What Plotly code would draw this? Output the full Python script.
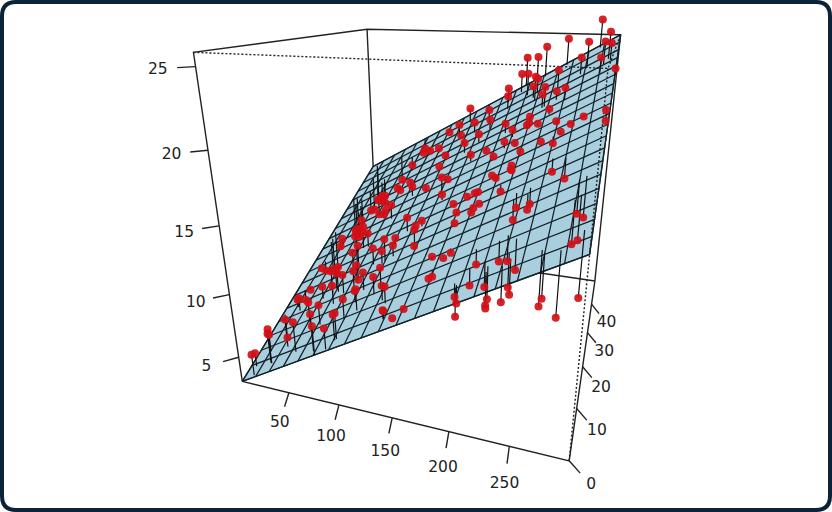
import numpy as np
import plotly.graph_objects as go

# Advertising budgets and sales read for each red point
tv = [230.1,44.5,17.2,151.5,180.8,8.7,57.5,120.2,8.6,199.8,66.1,214.7,23.8,97.5,204.1,195.4,67.8,281.4,69.2,147.3,
218.4,237.4,13.2,228.3,62.3,262.9,142.9,240.1,248.8,70.6,292.9,112.9,97.2,265.6,95.7,290.7,266.9,74.7,43.1,228,
202.5,177,293.6,206.9,25.1,175.1,89.7,239.9,227.2,66.9,199.8,100.4,216.4,182.6,262.7,198.9,7.3,136.2,210.8,210.7,
53.5,261.3,239.3,102.7,131.1,69,31.5,139.3,237.4,216.8,199.1,109.8,26.8,129.4,213.4,16.9,27.5,120.5,5.4,116,
76.4,239.8,75.3,68.4,213.5,193.2,76.3,110.7,88.3,109.8,134.3,28.6,217.7,250.9,107.4,163.3,197.6,184.9,289.7,135.2,
222.4,296.4,280.2,187.9,238.2,137.9,25,90.4,13.1,255.4,225.8,241.7,175.7,209.6,78.2,75.1,139.2,76.4,125.7,19.4,
141.3,18.8,224,123.1,229.5,87.2,7.8,80.2,220.3,59.6,0.7,265.2,8.4,219.8,36.9,48.3,25.6,273.7,43,184.9,
73.4,193.7,220.5,104.6,96.2,140.3,240.1,243.2,38,44.7,280.7,121,197.6,171.3,187.8,4.1,93.9,149.8,11.7,131.7,
172.5,85.7,188.4,163.5,117.2,234.5,17.9,206.8,215.4,284.3,50,164.5,19.6,168.4,222.4,276.9,248.4,170.2,276.7,165.6,
156.6,218.5,56.2,287.6,253.8,205,139.5,191.1,286,18.7,39.5,75.5,17.2,166.8,149.7,38.2,94.2,177,283.6,232.1]
radio = [37.8,39.3,45.9,41.3,10.8,48.9,32.8,19.6,2.1,2.6,5.8,24,35.1,7.6,32.9,47.7,36.6,39.6,20.5,23.9,
27.7,5.1,15.9,16.9,12.6,3.5,29.3,16.7,27.1,16,28.3,17.4,1.5,20,1.4,4.1,43.8,49.4,26.7,37.7,
22.3,33.4,27.7,8.4,25.7,22.5,9.9,41.5,15.8,11.7,3.1,9.6,41.7,46.2,28.8,49.4,28.1,19.2,49.6,29.5,
2,42.7,15.5,29.6,42.8,9.3,24.6,14.5,27.5,43.9,30.6,14.3,33,5.7,24.6,43.7,1.6,28.5,29.9,7.7,
26.7,4.1,20.3,44.5,43,18.4,27.5,40.6,25.5,47.8,4.9,1.5,33.5,36.5,14,31.6,3.5,21,42.3,41.7,
4.3,36.3,10.1,17.2,34.3,46.4,11,0.3,0.4,26.9,8.2,38,15.4,20.6,46.8,35,14.3,0.8,36.9,16,
26.8,21.7,2.4,34.6,32.3,11.8,38.9,0,49,12,39.6,2.9,27.2,33.5,38.6,47,39,28.9,25.9,43.9,
17,35.4,33.2,5.7,14.8,1.9,7.3,49,40.3,25.8,13.9,8.4,23.3,39.7,21.1,11.6,43.5,1.3,36.9,18.4,
18.1,35.8,18.1,36.8,14.7,3.4,37.6,5.2,23.6,10.6,11.6,20.9,20.1,7.1,3.4,48.9,30.2,7.8,2.3,10,
2.6,5.4,5.7,43,21.3,45.1,2.1,28.7,13.9,12.1,41.1,10.8,4.1,42,35.6,3.7,4.9,9.3,42,8.6]
sales = [22.1,10.4,9.3,18.5,12.9,7.2,11.8,13.2,4.8,10.6,8.6,17.4,9.2,9.7,19,22.4,12.5,24.4,11.3,14.6,
18,12.5,5.6,15.5,9.7,12,15,15.9,18.9,10.5,21.4,11.9,9.6,17.4,9.5,12.8,25.4,14.7,10.1,21.5,
16.6,17.1,20.7,12.9,8.5,14.9,10.6,23.2,14.8,9.7,11.4,10.7,22.6,21.2,20.2,23.7,5.5,13.2,23.8,18.4,
8.1,24.2,15.7,14,18,9.3,9.5,13.4,18.9,22.3,18.3,12.4,8.8,11,17,8.7,6.9,14.2,5.3,11,
11.8,12.3,11.3,13.6,21.7,15.2,12,16,12.9,16.7,11.2,7.3,19.4,22.2,11.5,16.9,11.7,15.5,25.4,17.2,
11.7,23.8,14.8,14.7,20.7,19.2,7.2,8.7,5.3,19.8,13.4,21.8,14.1,15.9,14.6,12.6,12.2,9.4,15.9,6.6,
15.5,7,11.6,15.2,19.7,10.6,6.6,8.8,24.7,9.7,1.6,12.7,5.7,19.6,10.8,11.6,9.5,20.8,9.6,20.7,
10.9,19.2,20.1,10.4,11.4,10.3,13.2,25.4,10.9,10.1,16.1,11.6,16.6,19,15.6,3.2,15.3,10.1,7.3,12.9,
14.4,13.3,14.9,18,11.9,11.9,8,12.2,17.1,15,8.4,14.5,7.6,11.7,11.5,27,20.2,11.7,11.8,12.6,
10.5,12.2,8.7,26.2,17.6,22.6,10.3,17.3,15.9,6.7,10.8,9.9,5.9,19.6,17.3,7.6,9.7,12.8,25.5,13.4]

x_ticks = [50, 100, 150, 200, 250]
y_ticks = [0, 10, 20, 30, 40]
z_ticks = [5, 10, 15, 20, 25]

# fitted regression plane (intercept, TV slope, radio slope)
b0, b1, b2 = 2.9211, 0.04575, 0.18799
n_grid = 20

xmin, xmax = min(tv), max(tv)
ymin, ymax = 0.0, max(radio)
plane = lambda a, b: b0 + b1 * np.asarray(a) + b2 * np.asarray(b)
zmin, zmax = float(plane(xmin, ymin)), float(plane(xmax, ymax))

# camera calibration: view of known box corners
calib = [
    ((xmin, ymin, zmin), (242.7, 382.3)),
    ((xmax, ymin, zmin), (568.7, 460.0)),
    ((xmin, ymin, zmax), (193.3, 52.7)),
    ((xmin, ymax, zmax), (367.0, 30.0)),
    ((xmax, ymax, zmax), (620.7, 35.0)),
    ((xmax, ymin, zmax), (608.5, 67.0)),
    ((xmax, ymax, zmin), (595.0, 281.7)),
    ((xmin, ymax, float(plane(xmin, ymax))), (373.0, 165.0)),
    ((xmax, ymin, float(plane(xmax, ymin))), (589.3, 255.0)),
]
def norm(p):
    return np.array([(p[0]-xmin)/(xmax-xmin), (p[1]-ymin)/(ymax-ymin), (p[2]-zmin)/(zmax-zmin), 1.0])
rows = []
for p, (u, v) in calib:
    P = norm(p)
    rows.append(np.r_[P, np.zeros(4), -u*P])
    rows.append(np.r_[np.zeros(4), P, -v*P])
M = np.linalg.svd(np.array(rows))[2][-1].reshape(3, 4)

def proj(x, y, z):
    h = M @ norm((x, y, z))
    return h[0]/h[2], h[1]/h[2]

def path(pts):
    xs, ys = [], []
    for p in pts:
        if p is None:
            xs.append(None); ys.append(None)
        else:
            a, b = proj(*p)
            xs.append(a); ys.append(b)
    return xs, ys

INK = "#222222"
fig = go.Figure()
def line(xs, ys, width=1.4, dash="solid", color=INK):
    fig.add_trace(go.Scatter(x=xs, y=ys, mode="lines", hoverinfo="skip",
                             line=dict(color=color, width=width, dash=dash)))

# box edges behind the plane
back = [(xmin,ymin,zmin),(xmin,ymin,zmax),(xmin,ymax,zmax),(xmax,ymax,zmax),(xmax,ymax,zmin),(xmax,ymin,zmin),(xmin,ymin,zmin),None,
        (xmin,ymax,zmax),(xmin,ymax,zmin),(xmax,ymax,zmin),None,(xmin,ymax,zmin),(xmin,ymin,zmin)]
line(*path(back))

# plane
edge = [(xmin,ymin),(xmax,ymin),(xmax,ymax),(xmin,ymax),(xmin,ymin)]
xs, ys = path([(a, b, float(plane(a, b))) for a, b in edge])
fig.add_trace(go.Scatter(x=xs, y=ys, mode="lines", fill="toself", fillcolor="#A9CFDE", hoverinfo="skip",
                         line=dict(color="#14222a", width=1.3)))
grid = []
for a in np.linspace(xmin, xmax, n_grid):
    grid += [(a, ymin, float(plane(a, ymin))), (a, ymax, float(plane(a, ymax))), None]
for b in np.linspace(ymin, ymax, n_grid):
    grid += [(xmin, b, float(plane(xmin, b))), (xmax, b, float(plane(xmax, b))), None]
line(*path(grid), width=1.25, color="#14222a")

# hidden edges, dotted
line(*path([(xmin,ymin,zmax),(xmax,ymin,zmax),(xmax,ymax,zmax),None,(xmax,ymin,zmax),(xmax,ymin,zmin)]), width=1.4, dash="2px,2px")

# residual stems and points
stems = []
for a, b, c in zip(tv, radio, sales):
    stems += [(a, b, c), (a, b, float(plane(a, b))), None]
line(*path(stems), width=1.2, color="#111111")
px, py = path(list(zip(tv, radio, sales)))
fig.add_trace(go.Scatter(x=px, y=py, mode="markers", hoverinfo="skip",
                         marker=dict(color="#D20F17", size=8, opacity=0.92, line=dict(width=0))))

# axes: ticks and labels
def axis(ticks, pts, v0, v1, k=2.1, shift=0.0):
    tx, ty, lx, ly = [], [], [], []
    for i, p in enumerate(pts):
        f = i / (len(pts) - 1)
        dx = v0[0] + (v1[0]-v0[0]) * f
        dy = v0[1] + (v1[1]-v0[1]) * f
        a, b = proj(*p)
        tx += [a, a+dx, None]; ty += [b, b+dy, None]
        lx.append(a+k*dx); ly.append(b+k*dy+shift)
    line(tx, ty)
    fig.add_trace(go.Scatter(x=lx, y=ly, mode="text", text=[str(t) for t in ticks], hoverinfo="skip",
                             textposition="middle center", cliponaxis=False,
                             textfont=dict(family="DejaVu Sans", size=15.5, color="#222222")))

axis(x_ticks, [(t, ymin, zmin) for t in x_ticks], (-4.3, 14), (-2.3, 17.3), shift=1.5)
axis(y_ticks, [(xmax, t, zmin) for t in y_ticks], (11, 12.3), (7.5, 9.5), k=2.0, shift=-0.5)
axis(z_ticks, [(xmin, ymin, t) for t in z_ticks], (-15.7, 4.3), (-18.4, 1), k=2.05, shift=1.5)

fig.update_layout(
    width=832, height=512, margin=dict(l=0, r=0, t=0, b=0), autosize=False,
    showlegend=False, paper_bgcolor="white", plot_bgcolor="white",
    xaxis=dict(range=[0, 832], visible=False, fixedrange=True),
    yaxis=dict(range=[512, 0], visible=False, fixedrange=True),
    shapes=[dict(type="path", xref="x", yref="y", layer="above",
                 path="M 16 2 L 816 2 Q 830 2 830 16 L 830 496 Q 830 510 816 510 L 16 510 Q 2 510 2 496 L 2 16 Q 2 2 16 2 Z",
                 line=dict(color="#0B2239", width=4))],
)
fig.write_html("out.html", config=dict(displayModeBar=False),
               post_script="document.body.style.margin='0';")
